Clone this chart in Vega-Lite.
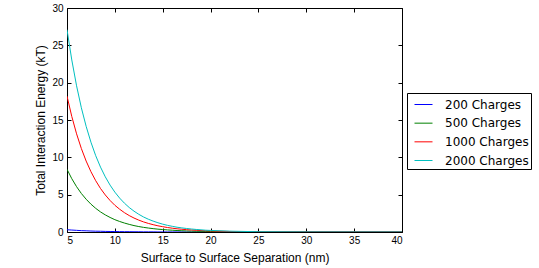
{
  "$schema": "https://vega.github.io/schema/vega-lite/v6.json",
  "autosize": "none",
  "width": 335,
  "height": 224,
  "padding": {"left": 67, "top": 8, "right": 137, "bottom": 36},
  "background": "white",
  "config": {
    "font": "Liberation Sans",
    "view": {"stroke": "black", "strokeWidth": 1},
    "axis": {
      "grid": false,
      "domain": false,
      "tickColor": "black",
      "tickSize": -4,
      "tickWidth": 1,
      "labelColor": "black",
      "labelFontSize": 10,
      "labelFont": "Liberation Sans",
      "titleFont": "Liberation Sans",
      "titleFontSize": 12,
      "titleFontWeight": "normal",
      "titleColor": "black",
      "labelPadding": 7
    }
  },
  "data": {
    "values": [
      {"x": 5, "a": 0.3, "b": 8.4, "c": 18.2, "d": 27.1},
      {"x": 5.5, "a": 0.26, "b": 7.14, "c": 15.47, "d": 23.04},
      {"x": 6, "a": 0.22, "b": 6.07, "c": 13.15, "d": 19.58},
      {"x": 6.5, "a": 0.18, "b": 5.16, "c": 11.18, "d": 16.64},
      {"x": 7, "a": 0.16, "b": 4.39, "c": 9.5, "d": 14.15},
      {"x": 7.5, "a": 0.13, "b": 3.73, "c": 8.08, "d": 12.03},
      {"x": 8, "a": 0.11, "b": 3.17, "c": 6.87, "d": 10.22},
      {"x": 8.5, "a": 0.1, "b": 2.69, "c": 5.83, "d": 8.69},
      {"x": 9, "a": 0.08, "b": 2.29, "c": 4.96, "d": 7.39},
      {"x": 9.5, "a": 0.07, "b": 1.95, "c": 4.22, "d": 6.28},
      {"x": 10, "a": 0.06, "b": 1.65, "c": 3.58, "d": 5.34},
      {"x": 10.5, "a": 0.05, "b": 1.41, "c": 3.05, "d": 4.54},
      {"x": 11, "a": 0.04, "b": 1.2, "c": 2.59, "d": 3.86},
      {"x": 11.5, "a": 0.04, "b": 1.02, "c": 2.2, "d": 3.28},
      {"x": 12, "a": 0.03, "b": 0.86, "c": 1.87, "d": 2.79},
      {"x": 12.5, "a": 0.03, "b": 0.73, "c": 1.59, "d": 2.37},
      {"x": 13, "a": 0.02, "b": 0.62, "c": 1.35, "d": 2.01},
      {"x": 13.5, "a": 0.02, "b": 0.53, "c": 1.15, "d": 1.71},
      {"x": 14, "a": 0.02, "b": 0.45, "c": 0.98, "d": 1.46},
      {"x": 14.5, "a": 0.01, "b": 0.38, "c": 0.83, "d": 1.24},
      {"x": 15, "a": 0.01, "b": 0.33, "c": 0.71, "d": 1.05},
      {"x": 15.5, "a": 0.01, "b": 0.28, "c": 0.6, "d": 0.89},
      {"x": 16, "a": 0.01, "b": 0.24, "c": 0.51, "d": 0.76},
      {"x": 16.5, "a": 0.01, "b": 0.2, "c": 0.43, "d": 0.64},
      {"x": 17, "a": 0.01, "b": 0.17, "c": 0.37, "d": 0.55},
      {"x": 17.5, "a": 0, "b": 0.14, "c": 0.31, "d": 0.47},
      {"x": 18, "a": 0, "b": 0.12, "c": 0.27, "d": 0.4},
      {"x": 18.5, "a": 0, "b": 0.1, "c": 0.23, "d": 0.34},
      {"x": 19, "a": 0, "b": 0.09, "c": 0.19, "d": 0.29},
      {"x": 19.5, "a": 0, "b": 0.08, "c": 0.16, "d": 0.24},
      {"x": 20, "a": 0, "b": 0.06, "c": 0.14, "d": 0.21},
      {"x": 22, "a": 0, "b": 0.03, "c": 0.07, "d": 0.11},
      {"x": 25, "a": 0, "b": 0.01, "c": 0.03, "d": 0.04},
      {"x": 30, "a": 0, "b": 0, "c": 0.01, "d": 0.01},
      {"x": 35, "a": 0, "b": 0, "c": 0, "d": 0},
      {"x": 40, "a": 0, "b": 0, "c": 0, "d": 0}
    ]
  },
  "transform": [
    {"fold": ["a", "b", "c", "d"], "as": ["key", "y"]},
    {"lookup": "key", "from": {"data": {"values": [
      {"key": "a", "series": "200 Charges"},
      {"key": "b", "series": "500 Charges"},
      {"key": "c", "series": "1000 Charges"},
      {"key": "d", "series": "2000 Charges"}
    ]}, "key": "key", "fields": ["series"]}}
  ],
  "layer": [
    {
      "mark": {"type": "line", "strokeWidth": 1, "clip": true},
      "encoding": {
        "x": {"field": "x", "type": "quantitative",
          "scale": {"domain": [5, 40], "nice": false, "zero": false},
          "axis": {"orient": "bottom", "values": [5, 10, 15, 20, 25, 30, 35, 40], "title": "Surface to Surface Separation (nm)", "titlePadding": 7}},
        "y": {"field": "y", "type": "quantitative",
          "scale": {"domain": [0, 30], "nice": false},
          "axis": {"orient": "left", "values": [0, 5, 10, 15, 20, 25, 30], "title": "Total Interaction Energy (kT)", "titlePadding": 4, "labelPadding": 8}},
        "color": {"field": "series", "type": "nominal",
          "scale": {"domain": ["200 Charges", "500 Charges", "1000 Charges", "2000 Charges"], "range": ["#0000ff", "#008000", "#ff0000", "#00bfbf"]},
          "legend": {
            "title": null,
            "orient": "none",
            "legendX": 340,
            "legendY": 85,
            "symbolType": "stroke",
            "symbolSize": 324,
            "symbolStrokeWidth": 1,
            "symbolOffset": 5,
            "labelFontSize": 12,
            "labelFont": "DejaVu Sans",
            "labelColor": "black",
            "labelOffset": 12,
            "rowPadding": 2.67,
            "padding": 2,
            "strokeColor": "black",
            "fillColor": "white",
            "cornerRadius": 0,
            "encode": {"symbols": {"update": {"stroke": {"scale": "color", "field": "value"}, "strokeWidth": {"value": 1}}}}
          }},
        "order": {"field": "x", "type": "quantitative"}
      }
    },
    {
      "mark": {"type": "line", "strokeOpacity": 0},
      "encoding": {
        "x": {"field": "x", "type": "quantitative",
          "scale": {"domain": [5, 40], "nice": false, "zero": false},
          "axis": {"orient": "top", "values": [5, 10, 15, 20, 25, 30, 35, 40], "labels": false, "title": null}},
        "y": {"field": "y", "type": "quantitative",
          "scale": {"domain": [0, 30], "nice": false},
          "axis": {"orient": "right", "values": [0, 5, 10, 15, 20, 25, 30], "labels": false, "title": null}},
        "detail": {"field": "series"}
      }
    }
  ],
  "resolve": {"axis": {"x": "independent", "y": "independent"}}
}
